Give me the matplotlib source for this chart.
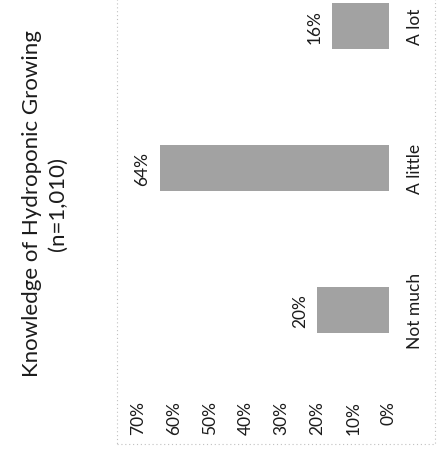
import matplotlib
matplotlib.use("Agg")
import matplotlib.pyplot as plt
from matplotlib.patches import Rectangle

plt.rcParams['font.family'] = ['Lato', 'DejaVu Sans']

# Survey data
categories = ["Not much", "A little", "A lot"]
shares = [0.20, 0.64, 0.16]
value_ticks = [0.0, 0.1, 0.2, 0.3, 0.4, 0.5, 0.6, 0.7]
tick_labels = ["0%", "10%", "20%", "30%", "40%", "50%", "60%", "70%"]
title = "Knowledge of Hydroponic Growing\n(n=1,010)"

W, H = 443, 456
fig = plt.figure(figsize=(W / 100, H / 100), dpi=100)
fig.patch.set_facecolor("white")

# Chart is laid out turned a quarter-turn: values run right-to-left,
# categories run bottom-to-top.
ax_left, ax_right = 138, 389
ax_top, ax_bottom = 0, 382
ax = fig.add_axes([ax_left / W, 1 - ax_bottom / H,
                   (ax_right - ax_left) / W, (ax_bottom - ax_top) / H])

pos = list(range(len(categories)))
ax.barh(pos, shares, height=0.32, color="#a2a2a2", edgecolor="none")
ax.set_xlim(0.70, 0.0)
ax.set_ylim(-0.5, 2.19)

for s in ax.spines.values():
    s.set_visible(False)

txt_color = "#1c1c1c"
fs = 12.5

ax.set_xticks(value_ticks)
ax.set_xticklabels(tick_labels, rotation=90, fontsize=fs, color=txt_color,
                   va="top", ha="center")
ax.tick_params(axis="x", length=0, pad=14)

ax.yaxis.tick_right()
ax.set_yticks(pos)
ax.set_yticklabels(categories, rotation=90, fontsize=fs, color=txt_color,
                   va="center", ha="left")
ax.tick_params(axis="y", length=0, pad=13)

for i, v in enumerate(shares):
    ax.annotate(f"{round(v * 100)}%", xy=(v, i), xytext=(-9, 0),
                textcoords="offset pixels", rotation=90, ha="right",
                va="center", fontsize=fs, color=txt_color)

fig.text(45 / W, 1 - 204 / H, title, rotation=90, ha="center", va="center",
         fontsize=16, color=txt_color, multialignment="center",
         linespacing=1.35)

# Dotted chart-area border (top edge runs past the canvas)
border = Rectangle((117 / W, 1 - 445 / H), (435 - 117) / W, 1.2,
                   transform=fig.transFigure, fill=False,
                   edgecolor="#c0c0c0", linestyle=(0, (1, 2.5)), linewidth=0.8)
fig.add_artist(border)

fig.savefig("out.png", dpi=100, facecolor="white")
